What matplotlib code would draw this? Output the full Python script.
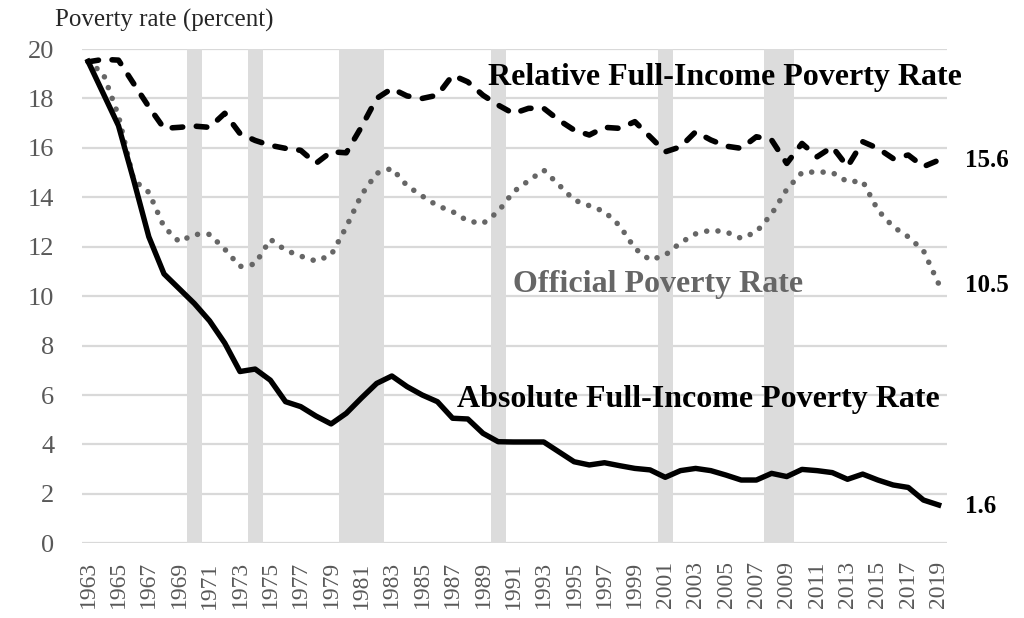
import matplotlib
matplotlib.use("Agg")
import matplotlib.pyplot as plt
import numpy as np

years = list(range(1963, 2020))

absolute = [19.5, 18.2, 16.9, 14.7, 12.4, 10.9, 10.3, 9.7, 9.0, 8.1, 6.95, 7.05, 6.6, 5.73, 5.53,
            5.15, 4.83, 5.26, 5.88, 6.47, 6.77, 6.34, 6.0, 5.73, 5.06, 5.03, 4.45, 4.11, 4.1, 4.1,
            4.1, 3.7, 3.3, 3.17, 3.26, 3.14, 3.03, 2.97, 2.67, 2.94, 3.03, 2.94, 2.76, 2.56, 2.56,
            2.83, 2.7, 2.99, 2.94, 2.86, 2.59, 2.8, 2.56, 2.36, 2.26, 1.75, 1.55]

relative = [19.48, 19.58, 19.55, 18.6, 17.66, 16.79, 16.83, 16.88, 16.83, 17.4, 16.58, 16.3, 16.1,
            15.98, 15.9, 15.37, 15.84, 15.8, 16.85, 18.0, 18.4, 18.1, 18.0, 18.13, 18.94, 18.67,
            18.13, 17.73, 17.39, 17.6, 17.6, 17.12, 16.72, 16.52, 16.83, 16.79, 17.06, 16.45,
            15.84, 16.04, 16.65, 16.32, 16.07, 15.98, 16.45, 16.32, 15.37, 16.18, 15.64, 16.04,
            15.24, 16.25, 15.98, 15.57, 15.71, 15.24, 15.5]

official = [19.5, 19.0, 17.3, 14.7, 14.2, 12.8, 12.2, 12.5, 12.5, 11.9, 11.2, 11.3, 12.3, 11.86,
            11.62, 11.42, 11.66, 12.8, 14.1, 14.97, 15.17, 14.47, 14.05, 13.66, 13.42, 13.04,
            12.94, 13.42, 14.22, 14.67, 15.1, 14.5, 13.89, 13.66, 13.42, 12.85, 11.93, 11.46,
            11.66, 12.16, 12.52, 12.67, 12.6, 12.34, 12.6, 13.32, 14.32, 15.0, 15.03, 15.0,
            14.63, 14.65, 13.48, 12.81, 12.4, 11.84, 10.5]

recession_years = [1970, 1974, 1980, 1981, 1982, 1990, 2001, 2008, 2009]

tick_years = list(range(1963, 2020, 2))
yticks = list(range(0, 21, 2))

serif = ["Liberation Serif", "DejaVu Serif"]

fig = plt.figure(figsize=(10.24, 6.18), dpi=100)
ax = fig.add_axes([82 / 1024, 1 - 543.3 / 618, (947 - 82) / 1024, (543.3 - 49) / 618])

ax.set_xlim(1962.6, 2019.55)
ax.set_ylim(0, 20)

ax.set_yticks(yticks)
ax.yaxis.grid(True, color="#d9d9d9", linewidth=1.6, zorder=0)
ax.set_axisbelow(True)

ax.bar(recession_years, [20] * len(recession_years), width=1.0, color="#dcdcdc",
       linewidth=0, zorder=1)

ax.plot(years, official, color="#666666", linewidth=4.0, linestyle=(0, (0.01, 2.05)),
        dash_capstyle="round", zorder=3)
ax.plot(years, relative, color="black", linewidth=4.0, linestyle=(0, (1.9, 2.45)),
        dash_capstyle="round", zorder=4)
ax.plot(years, absolute, color="black", linewidth=3.9, solid_joinstyle="round", zorder=5)

for s in ax.spines.values():
    s.set_visible(False)

ax.set_xticks(tick_years)
ax.set_xticklabels([str(y) for y in tick_years], rotation=90, family=serif,
                   fontsize=17, color="#595959")
ax.set_yticklabels([str(v) for v in yticks], family=serif, fontsize=19, color="#595959")
ax.tick_params(axis="both", length=0)
ax.tick_params(axis="y", pad=20)
ax.tick_params(axis="x", pad=13)

fig.text(55 / 1024, 1 - 26.7 / 618, "Poverty rate (percent)", family=serif, fontsize=18,
         color="#262626", ha="left", va="baseline")

ax.text(2020.53, 18.54, "Relative Full-Income Poverty Rate", family=serif, fontsize=23,
        fontweight="bold", color="black", ha="right", va="baseline", clip_on=False, zorder=6)
ax.text(2000.5, 10.18, "Official Poverty Rate", family=serif, fontsize=23,
        fontweight="bold", color="#666666", ha="center", va="baseline", zorder=6)
ax.text(2003.15, 5.53, "Absolute Full-Income Poverty Rate", family=serif, fontsize=23,
        fontweight="bold", color="black", ha="center", va="baseline", zorder=6)

end_labels = ["15.6", "10.5", "1.6"]
end_label_y = [15.23, 10.18, 1.23]
for lab, yv in zip(end_labels, end_label_y):
    ax.text(2020.75, yv, lab, family=serif, fontsize=18, fontweight="bold", color="black",
            ha="left", va="baseline", clip_on=False)

fig.savefig("out.png", dpi=100)
